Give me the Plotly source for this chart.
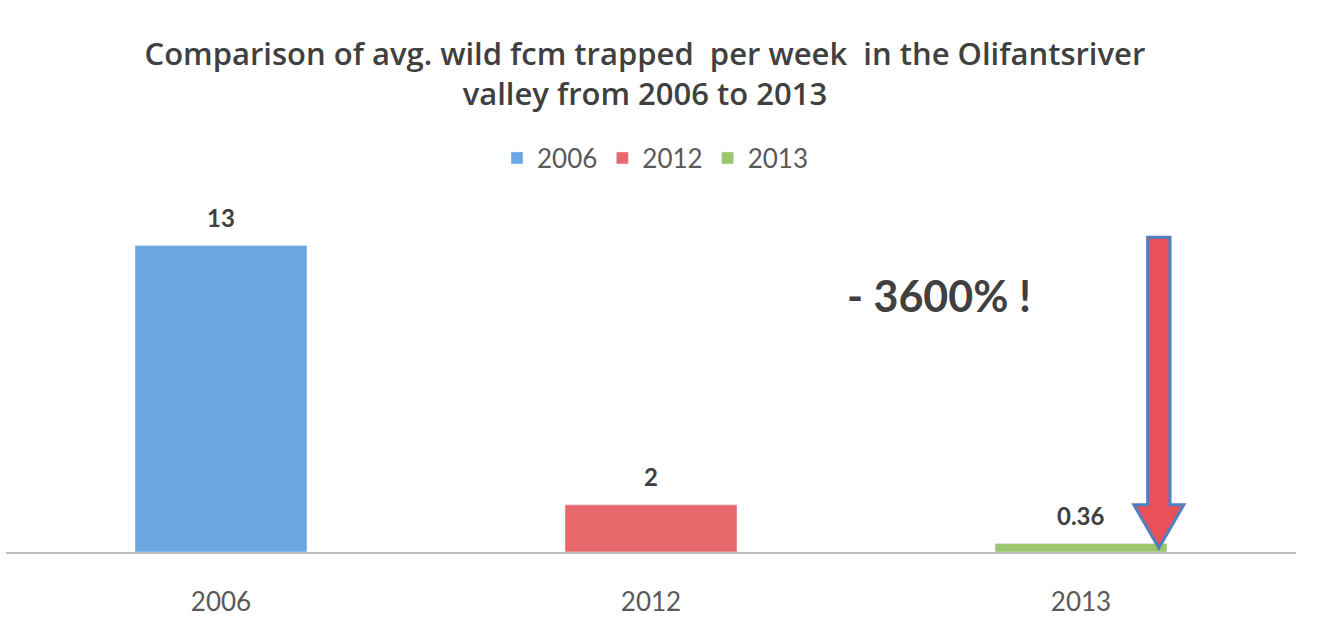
import plotly.graph_objects as go

years = ["2006", "2012", "2013"]
values = [13, 2, 0.36]
labels = ["13", "2", "0.36"]
colors = ["#6AA7E2", "#E8696C", "#9CC66E"]

fig = go.Figure()
for i, (yr, v, lab, c) in enumerate(zip(years, values, labels, colors)):
    fig.add_trace(go.Bar(x=[yr], y=[v], name=yr, marker_color=c, width=0.4))
    fig.add_annotation(x=i, y=v, xref="x", yref="y", text=f"<b>{lab}</b>",
                       showarrow=False, xanchor="center", yanchor="middle", yshift=28,
                       font=dict(size=24, color="#404040", family="Lato"))

# arrow (decorative)
cx, hw, hh = 2.181, 0.026, 0.058
path = (f"M {cx-hw},13.35 L {cx+hw},13.35 L {cx+hw},2.0 L {cx+hh},2.0 "
        f"L {cx},0.17 L {cx-hh},2.0 L {cx-hw},2.0 Z")
fig.add_shape(type="path", path=path, xref="x", yref="y",
              fillcolor="#E8505A", line=dict(color="#4F7FC0", width=3))

fig.add_annotation(x=(939 - 6) / 1290, xref="paper", y=(552 - 295) / 330, yref="paper",
                   xanchor="center", yanchor="middle",
                   text="<b>- 3600% !</b>", showarrow=False,
                   font=dict(size=43, color="#404040", family="Lato"))

fig.update_layout(
    width=1327, height=631,
    paper_bgcolor="white", plot_bgcolor="white",
    margin=dict(l=6, r=31, t=222, b=79),
    barmode="overlay",
    title=dict(text="Comparison of avg. wild fcm trapped  per week  in the Olifantsriver<br>valley from 2006 to 2013",
               x=0.486, xanchor="center", y=1 - 65 / 631, yanchor="top",
               font=dict(size=31, color="#404040", family="Open Sans", weight=600)),
    legend=dict(orientation="h", x=(655 - 6) / 1290, xanchor="center",
                y=(552 - 158) / 330, yanchor="middle",
                font=dict(size=26, color="#595959", family="Lato"),
                itemwidth=30),
    showlegend=True,
    xaxis=dict(type="category", showline=True, linecolor="#BFBFBF", linewidth=1.5,
               ticks="", ticklabelstandoff=26,
               tickfont=dict(size=26, color="#595959", family="Lato"),
               range=[-0.5, 2.5]),
    yaxis=dict(range=[0, 14], visible=False, showgrid=False, zeroline=False),
)

fig.write_html("out.html")
